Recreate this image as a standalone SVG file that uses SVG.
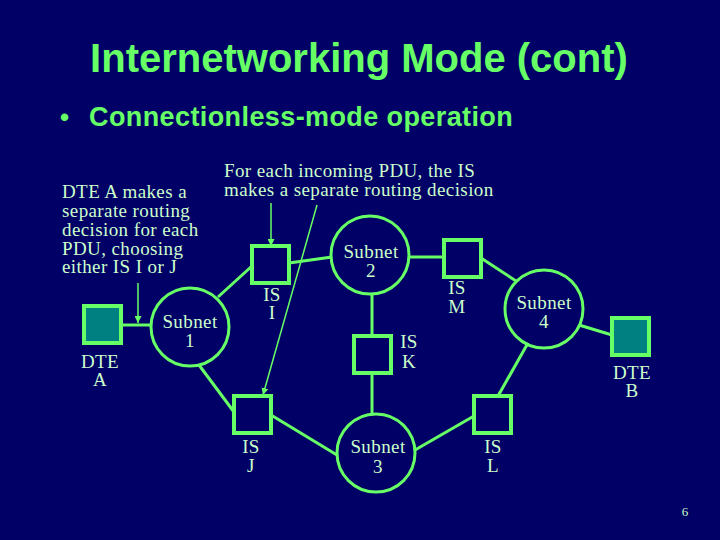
<svg xmlns="http://www.w3.org/2000/svg" width="720" height="540" viewBox="0 0 720 540">
<defs>
<style>
.bg{fill:#000066}
.box{fill:none;stroke:#66ff66;stroke-width:4}
.dte{fill:#008080;stroke:#66ff66;stroke-width:4}
.net{fill:none;stroke:#66ff66;stroke-width:3}
.ln{stroke:#66ff66;stroke-width:3;fill:none}
.an{stroke:#66ff66;stroke-width:1.5;fill:none}
.lbl{font-family:"Liberation Serif","Times New Roman",serif;font-size:19px;letter-spacing:0.4px;fill:#ccffcc;text-anchor:middle}
.note{font-family:"Liberation Serif","Times New Roman",serif;font-size:19px;letter-spacing:0.4px;fill:#ccffcc}
.h{font-family:"Liberation Sans",Arial,sans-serif;font-weight:bold;fill:#66ff66}
</style>
<marker id="ah" viewBox="0 0 10 10" refX="10" refY="5" markerWidth="7" markerHeight="7" orient="auto" markerUnits="userSpaceOnUse">
<path d="M0,0 L10,5 L0,10 Z" fill="#66ff66"/>
</marker>
</defs>
<rect class="bg" x="0" y="0" width="720" height="540"/>
<text class="h" x="359" y="72" font-size="40" text-anchor="middle">Internetworking Mode (cont)</text>
<text class="h" x="60" y="126" font-size="26">•</text>
<text class="h" x="89" y="126" font-size="27" letter-spacing="0.4">Connectionless-mode operation</text>

<g id="connectors">
<line class="ln" x1="121" y1="325" x2="151" y2="325"/>
<line class="ln" x1="218" y1="297" x2="252" y2="266"/>
<line class="ln" x1="289" y1="263" x2="332" y2="257"/>
<line class="ln" x1="408" y1="257" x2="444" y2="257"/>
<line class="ln" x1="481" y1="258" x2="516" y2="281"/>
<line class="ln" x1="372" y1="294" x2="372" y2="336"/>
<line class="ln" x1="372" y1="373" x2="372" y2="414"/>
<line class="ln" x1="199" y1="365" x2="234" y2="412"/>
<line class="ln" x1="271" y1="415" x2="337" y2="455"/>
<line class="ln" x1="415" y1="450" x2="474" y2="416"/>
<line class="ln" x1="498" y1="396" x2="528" y2="343"/>
<line class="ln" x1="579" y1="325" x2="612" y2="335"/>
<line class="an" x1="138" y1="283" x2="138" y2="323" marker-end="url(#ah)"/>
<line class="an" x1="271" y1="203" x2="271" y2="246" marker-end="url(#ah)"/>
<line class="an" x1="317" y1="205" x2="263" y2="395" marker-end="url(#ah)"/>
</g>

<g id="dteA"><rect class="dte" x="84" y="306" width="37" height="37"/>
<text class="lbl" x="100" y="368">DTE</text><text class="lbl" x="100" y="386">A</text></g>
<g id="subnet1"><circle class="net" cx="190" cy="327" r="39"/>
<text class="lbl" x="190" y="328">Subnet</text><text class="lbl" x="190" y="347">1</text></g>
<g id="isI"><rect class="box" x="252" y="246" width="37" height="37"/>
<text class="lbl" x="272" y="301">IS</text><text class="lbl" x="272" y="319">I</text></g>
<g id="subnet2"><circle class="net" cx="370" cy="255" r="39"/>
<text class="lbl" x="371" y="258">Subnet</text><text class="lbl" x="371" y="277">2</text></g>
<g id="isM"><rect class="box" x="444" y="240" width="37" height="37"/>
<text class="lbl" x="457" y="294">IS</text><text class="lbl" x="457" y="313">M</text></g>
<g id="subnet4"><circle class="net" cx="544" cy="309" r="39"/>
<text class="lbl" x="544" y="309">Subnet</text><text class="lbl" x="544" y="328">4</text></g>
<g id="dteB"><rect class="dte" x="612" y="318" width="37" height="37"/>
<text class="lbl" x="632" y="379">DTE</text><text class="lbl" x="632" y="397">B</text></g>
<g id="isK"><rect class="box" x="354" y="336" width="37" height="37"/>
<text class="lbl" x="409" y="348">IS</text><text class="lbl" x="409" y="368">K</text></g>
<g id="isJ"><rect class="box" x="234" y="396" width="37" height="37"/>
<text class="lbl" x="251" y="453">IS</text><text class="lbl" x="251" y="472">J</text></g>
<g id="subnet3"><circle class="net" cx="376" cy="453" r="39"/>
<text class="lbl" x="378" y="453">Subnet</text><text class="lbl" x="378" y="473">3</text></g>
<g id="isL"><rect class="box" x="474" y="396" width="37" height="37"/>
<text class="lbl" x="493" y="453">IS</text><text class="lbl" x="493" y="472">L</text></g>

<g id="noteA">
<text class="note" x="62" y="198">DTE A makes a</text>
<text class="note" x="62" y="217">separate routing</text>
<text class="note" x="62" y="236">decision for each</text>
<text class="note" x="62" y="255">PDU, choosing</text>
<text class="note" x="62" y="273">either IS I or J</text>
</g>
<g id="noteIS">
<text class="note" x="224" y="177">For each incoming PDU, the IS</text>
<text class="note" x="224" y="196">makes a separate routing decision</text>
</g>
<text x="685" y="516" font-family="Liberation Serif,serif" font-size="13" fill="#ccffcc" text-anchor="middle">6</text>
</svg>
